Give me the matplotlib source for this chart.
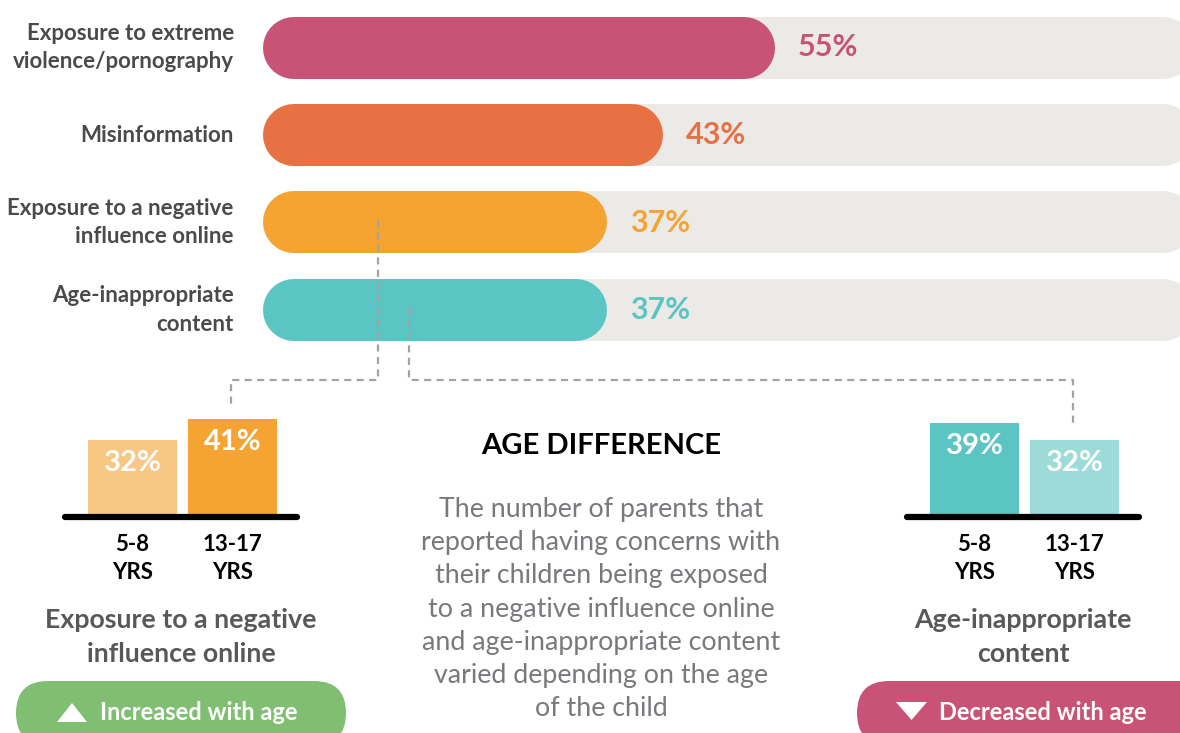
import matplotlib
matplotlib.use("Agg")
import matplotlib.pyplot as plt
from matplotlib.patches import FancyBboxPatch, Polygon

# ---------------- data ----------------
categories = ["Exposure to extreme\nviolence/pornography", "Misinformation",
              "Exposure to a negative\ninfluence online", "Age-inappropriate\ncontent"]
values = [55, 43, 37, 37]
bar_colors = ["#C95277", "#E87144", "#F5A331", "#5BC5C3"]

age_groups = ["5-8\nYRS", "13-17\nYRS"]
negative_influence = [32, 41]
age_inappropriate = [39, 32]
neg_colors = ["#F9C784", "#F5A331"]
age_colors = ["#5BC5C3", "#9DDBD9"]

title_center = "AGE DIFFERENCE"
paragraph = ("The number of parents that\nreported having concerns with\n"
             "their children being exposed\nto a negative influence online\n"
             "and age-inappropriate content\nvaried depending on the age\nof the child")

plt.rcParams['font.family'] = ['Lato', 'DejaVu Sans']

W, H, DPI = 1180, 733, 100
fig = plt.figure(figsize=(W / DPI, H / DPI), dpi=DPI)
fig.patch.set_facecolor("white")

def rect(x0, y0, x1, y1):
    """pixel box (top-left origin) -> figure fraction rect"""
    return [x0 / W, 1 - y1 / H, (x1 - x0) / W, (y1 - y0) / H]

# ---------------- main rounded bars ----------------
ax = fig.add_axes(rect(263, 3.75, 263 + 931, 353.75))
ax.set_xlim(0, 100)
ax.set_ylim(len(values) - 0.5, -0.5)
px_per_unit = 931 / 100
bar_h_px = 62
lw_pt = bar_h_px * 72 / DPI
r = (bar_h_px / 2) / px_per_unit
for i, (v, c) in enumerate(zip(values, bar_colors)):
    ax.plot([r, 100 - r], [i, i], color="#EBEAE6", lw=lw_pt,
            solid_capstyle="round", clip_on=False, zorder=1)
    ax.plot([r, v - r], [i, i], color=c, lw=lw_pt,
            solid_capstyle="round", clip_on=False, zorder=2)
    ax.annotate(f"{v}%", xy=(v, i), xytext=(16.5, 0), textcoords="offset points",
                va="center", ha="left", color=c, fontsize=22, fontweight="bold")
ax.set_yticks(range(len(categories)))
ax.set_yticklabels(categories, fontsize=16, fontweight="bold", color="#4A4A4C",
                   linespacing=1.45, va="center")
for lbl in ax.get_yticklabels():
    lbl.set_y(lbl.get_position()[1])
ax.tick_params(axis="y", length=0, pad=21)
ax.set_xticks([])
for s in ax.spines.values():
    s.set_visible(False)
ax.patch.set_alpha(0)

# ---------------- mini bar charts ----------------
def mini(x0, x1, vals, cols):
    scale = 2.4  # px per percent
    top = 50
    a = fig.add_axes(rect(x0, 517 - top * scale, x1, 517))
    c0 = x0 + 67.5
    a.set_xlim((x0 - c0) / 100, (x1 - c0) / 100)
    a.set_ylim(0, top)
    a.bar(range(len(vals)), vals, width=0.89, color=cols, zorder=1)
    a.axhline(0, color="black", lw=4.5, solid_capstyle="round", clip_on=False, zorder=3)
    for i, v in enumerate(vals):
        a.annotate(f"{v}%", xy=(i, v), xytext=(0, -16.5), textcoords="offset points",
                   ha="center", va="center", color="white", fontsize=21, fontweight="bold")
    a.set_xticks(range(len(vals)))
    a.set_xticklabels(age_groups, fontsize=16, fontweight="bold", color="black",
                      linespacing=1.45)
    a.tick_params(axis="x", length=0, pad=12)
    a.set_yticks([])
    for s in a.spines.values():
        s.set_visible(False)
    a.patch.set_alpha(0)
    return a

mini(65, 297, negative_influence, neg_colors)
mini(907, 1139, age_inappropriate, age_colors)

# ---------------- decoration overlay ----------------
d = fig.add_axes([0, 0, 1, 1])
d.set_xlim(0, W)
d.set_ylim(H, 0)
d.axis("off")

dash = dict(color="#A3A3A3", lw=1.6, ls=(0, (3.2, 2.4)), solid_capstyle="butt")
d.plot([378, 378, 231, 231], [220, 380, 380, 405], **dash)
d.plot([409, 409, 1073, 1073], [308, 380, 380, 428], **dash)

d.text(601, 446, title_center, ha="center", va="center", fontsize=21,
       fontweight="bold", color="black")
d.text(601, 609, paragraph, ha="center", va="center", fontsize=19.3,
       fontweight="normal", color="#78797C", linespacing=1.41)

d.text(181, 637, "Exposure to a negative\ninfluence online", ha="center", va="center",
       fontsize=19.3, fontweight="bold", color="#58585A", linespacing=1.45)
d.text(1023, 637, "Age-inappropriate\ncontent", ha="center", va="center",
       fontsize=19.3, fontweight="bold", color="#58585A", linespacing=1.45)

d.add_patch(FancyBboxPatch((16, 681), 330, 64, boxstyle="round,pad=0,rounding_size=32",
                           fc="#80BF72", ec="none"))
d.add_patch(FancyBboxPatch((857, 681), 360, 64, boxstyle="round,pad=0,rounding_size=32",
                           fc="#C95277", ec="none"))
d.add_patch(Polygon([(57, 722), (87, 722), (72, 703)], closed=True, fc="white", ec="none"))
d.add_patch(Polygon([(896, 702), (927, 702), (911.5, 720)], closed=True, fc="white", ec="none"))
d.text(100, 712, "Increased with age", ha="left", va="center", fontsize=17,
       fontweight="bold", color="white")
d.text(939, 712, "Decreased with age", ha="left", va="center", fontsize=17,
       fontweight="bold", color="white")

fig.savefig("out.png", dpi=DPI, facecolor="white")
